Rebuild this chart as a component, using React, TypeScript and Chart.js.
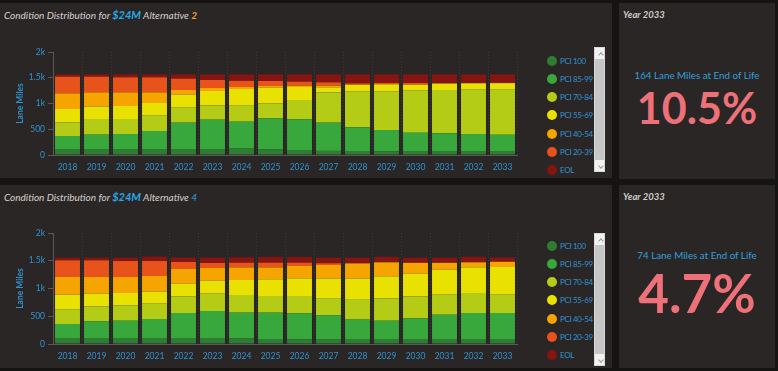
import React, { useEffect, useRef } from "react";
import { Chart, registerables } from "chart.js";

Chart.register(...registerables);

const YEARS = ["2018", "2019", "2020", "2021", "2022", "2023", "2024", "2025", "2026", "2027", "2028", "2029", "2030", "2031", "2032", "2033"];
const SERIES_LABELS = ["PCI 100", "PCI 85-99", "PCI 70-84", "PCI 55-69", "PCI 40-54", "PCI 20-39", "EOL"];
const SERIES_COLORS = ["#2f7d34", "#38a83c", "#b5cc17", "#e9e102", "#f5a400", "#e8531b", "#861411"];
const Y_TICKS = [0, 500, 1000, 1500, 2000];

// Alternative 2
const ALT2_PCI100 = [115, 115, 115, 115, 115, 115, 125, 110, 97, 80, 78, 70, 65, 65, 65, 65];
const ALT2_PCI85_99 = [254, 280, 293, 351, 513, 571, 522, 602, 596, 548, 459, 415, 369, 356, 343, 330];
const ALT2_PCI70_84 = [265, 304, 291, 298, 291, 278, 311, 291, 375, 589, 693, 745, 815, 841, 867, 880];
const ALT2_PCI55_69 = [259, 240, 252, 246, 252, 279, 324, 307, 252, 97, 129, 142, 111, 123, 117, 120];
const ALT2_PCI40_54 = [304, 278, 266, 207, 91, 58, 38, 30, 26, 32, 9, 8, 10, 5, 3, 3];
const ALT2_PCI20_39 = [324, 304, 291, 291, 220, 155, 120, 97, 78, 65, 23, 20, 28, 5, 3, 3];
const ALT2_EOL = [44, 44, 57, 57, 83, 109, 125, 128, 141, 154, 174, 165, 167, 170, 167, 164];

// Alternative 4
const ALT4_PCI100 = [108, 108, 108, 108, 108, 108, 102, 90, 85, 80, 78, 78, 78, 78, 78, 78];
const ALT4_PCI85_99 = [252, 300, 312, 342, 451, 487, 463, 475, 468, 440, 362, 342, 384, 450, 481, 481];
const ALT4_PCI70_84 = [259, 271, 277, 277, 300, 312, 318, 300, 312, 306, 370, 403, 397, 361, 360, 330];
const ALT4_PCI55_69 = [270, 228, 222, 216, 228, 234, 270, 300, 318, 354, 370, 396, 408, 450, 462, 498];
const ALT4_PCI40_54 = [318, 300, 288, 282, 264, 228, 228, 216, 222, 243, 270, 252, 192, 120, 90, 90];
const ALT4_PCI20_39 = [300, 300, 288, 270, 126, 90, 84, 84, 60, 32, 10, 4, 6, 6, 4, 8];
const ALT4_EOL = [48, 48, 60, 80, 79, 97, 97, 103, 103, 100, 95, 95, 90, 90, 95, 74];

const ALT2_SERIES = [ALT2_PCI100, ALT2_PCI85_99, ALT2_PCI70_84, ALT2_PCI55_69, ALT2_PCI40_54, ALT2_PCI20_39, ALT2_EOL];
const ALT4_SERIES = [ALT4_PCI100, ALT4_PCI85_99, ALT4_PCI70_84, ALT4_PCI55_69, ALT4_PCI40_54, ALT4_PCI20_39, ALT4_EOL];

const FONT = "Lato, 'Open Sans', sans-serif";
const BLUE = "#2f93d0";
const AXIS_GRAY = "#5b5755";
const PANEL_BG = "#2a2625";
const OUTER_BG = "#161413";

function fmtTick(v: number): string {
  if (v === 0) return "0";
  if (v >= 1000) return v / 1000 + "k";
  return String(v);
}

function StackedChart({ series, top, height }: { series: number[][]; top: number; height: number }) {
  const ref = useRef<HTMLCanvasElement | null>(null);
  useEffect(() => {
    if (!ref.current) return;
    const chart = new Chart(ref.current, {
      type: "bar",
      data: {
        labels: YEARS,
        datasets: SERIES_LABELS.map((label, i) => ({
          label,
          data: series[i],
          backgroundColor: SERIES_COLORS[i],
          borderWidth: 0,
          barPercentage: 0.86,
          categoryPercentage: 1,
        })),
      },
      options: {
        animation: false,
        responsive: false,
        maintainAspectRatio: false,
        layout: { padding: { top: 12, right: 13, left: 0, bottom: 0 } },
        plugins: { legend: { display: false }, tooltip: { enabled: false } },
        scales: {
          x: {
            stacked: true,
            ticks: { color: BLUE, font: { size: 8.5, family: FONT }, padding: 7, maxRotation: 0 },
            grid: { display: true, offset: true, drawTicks: false, color: "rgba(255,255,255,0.09)" },
            border: { display: true, color: AXIS_GRAY, dash: [1, 2] },
            afterFit: (s: any) => {
              s.height = 20;
            },
          },
          y: {
            stacked: true,
            min: 0,
            max: 2000,
            afterBuildTicks: (s: any) => {
              s.ticks = Y_TICKS.map((v) => ({ value: v }));
            },
            ticks: {
              color: BLUE,
              font: { size: 8.5, family: FONT },
              padding: 3,
              callback: (v: any) => fmtTick(Number(v)),
            },
            grid: { display: true, drawOnChartArea: false, drawTicks: true, tickLength: 5, color: AXIS_GRAY },
            border: { display: true, color: AXIS_GRAY },
            title: {
              display: true,
              text: "Lane Miles",
              color: BLUE,
              font: { size: 8.5, family: FONT, weight: "bold" },
              padding: { top: 15, bottom: 0 },
            },
            afterFit: (s: any) => {
              s.width = 53;
            },
          },
        },
      },
    } as any);
    return () => chart.destroy();
  }, [series]);
  return (
    <canvas
      ref={ref}
      width={530}
      height={height}
      style={{ position: "absolute", left: 0, top, width: 530, height }}
    />
  );
}

function Legend({ top }: { top: number }) {
  return (
    <>
      {SERIES_LABELS.map((label, i) => (
        <div
          key={label}
          style={{
            position: "absolute",
            left: 547,
            top: top + i * 18.25 - 6,
            height: 12,
            display: "flex",
            alignItems: "center",
            whiteSpace: "nowrap",
          }}
        >
          <div style={{ width: 10, height: 10, borderRadius: 5, background: SERIES_COLORS[i], marginRight: 3 }} />
          <span style={{ color: BLUE, fontFamily: FONT, fontSize: 8, letterSpacing: -0.35 }}>{label}</span>
        </div>
      ))}
    </>
  );
}

function Scrollbar({ top, height }: { top: number; height: number }) {
  const chevron = (up: boolean) => (
    <div
      style={{
        position: "absolute",
        left: 3.5,
        top: up ? 5 : height - 9,
        width: 3,
        height: 3,
        borderLeft: "1px solid #9a9a9a",
        borderTop: "1px solid #9a9a9a",
        transform: up ? "rotate(45deg)" : "rotate(225deg)",
      }}
    />
  );
  return (
    <div
      style={{
        position: "absolute",
        left: 594,
        top,
        width: 11,
        height,
        background: "#f2f2f2",
        boxSizing: "border-box",
        border: "1px solid #d9d9d9",
      }}
    >
      <div style={{ position: "absolute", left: 0, right: 0, top: 11, bottom: 11, background: "#c6c6c6" }} />
      {chevron(true)}
      {chevron(false)}
    </div>
  );
}

function Title({ top, alt, altColor, altBold }: { top: number; alt: string; altColor: string; altBold: boolean }) {
  return (
    <div
      style={{
        position: "absolute",
        left: 4,
        top,
        fontFamily: FONT,
        fontStyle: "italic",
        fontSize: 10,
        color: "#d6d3d1",
        whiteSpace: "nowrap",
        lineHeight: "12px",
      }}
    >
      Condition Distribution for <span style={{ color: "#27a7e3", fontWeight: 700, fontSize: 11 }}>$24M</span> Alternative{" "}
      <span style={{ color: altColor, fontWeight: altBold ? 700 : 400 }}>{alt}</span>
    </div>
  );
}

function SidePanel({ top, height, miles, pct, pctSize, milesY, pctY }: any) {
  return (
    <div style={{ position: "absolute", left: 619, top, width: 156, height, background: PANEL_BG }}>
      <div
        style={{
          position: "absolute",
          left: 4,
          top: 6,
          fontFamily: FONT,
          fontStyle: "italic",
          fontWeight: 700,
          fontSize: 9.5,
          color: "#cfcccb",
          lineHeight: "12px",
        }}
      >
        Year 2033
      </div>
      <div
        style={{
          position: "absolute",
          left: 0,
          width: 156,
          top: milesY - top - 7,
          textAlign: "center",
          fontFamily: FONT,
          fontSize: 9.8,
          color: "#30a0dc",
          lineHeight: "14px",
        }}
      >
        {miles} Lane Miles at End of Life
      </div>
      <div
        style={{
          position: "absolute",
          left: 0,
          width: 156,
          top: pctY - top - pctSize * 0.6,
          height: pctSize * 1.2,
          lineHeight: pctSize * 1.2 + "px",
          textAlign: "center",
          fontFamily: FONT,
          fontWeight: 700,
          fontSize: pctSize,
          color: "#ee717a",
        }}
      >
        {pct}
      </div>
    </div>
  );
}

export default function App() {
  return (
    <div
      style={{
        position: "fixed",
        left: 0,
        top: 0,
        width: 778,
        height: 371,
        background: OUTER_BG,
        overflow: "hidden",
      }}
    >
      {/* Top chart panel */}
      <div style={{ position: "absolute", left: 0, top: 3, width: 612, height: 175, background: PANEL_BG }} />
      <Title top={9} alt="2" altColor="#f0a12e" altBold={true} />
      <StackedChart series={ALT2_SERIES} top={40} height={135} />
      <Legend top={60.7} />
      <Scrollbar top={47} height={125} />
      <SidePanel top={3} height={176} miles={164} pct="10.5%" pctSize={43} milesY={75} pctY={108} />

      {/* Bottom chart panel */}
      <div style={{ position: "absolute", left: 0, top: 185, width: 612, height: 183, background: PANEL_BG }} />
      <Title top={190.5} alt="4" altColor="#27a7e3" altBold={false} />
      <StackedChart series={ALT4_SERIES} top={221} height={143} />
      <Legend top={245.7} />
      <Scrollbar top={233} height={133} />
      <SidePanel top={185} height={183} miles={74} pct="4.7%" pctSize={53} milesY={255} pctY={292.5} />
    </div>
  );
}
